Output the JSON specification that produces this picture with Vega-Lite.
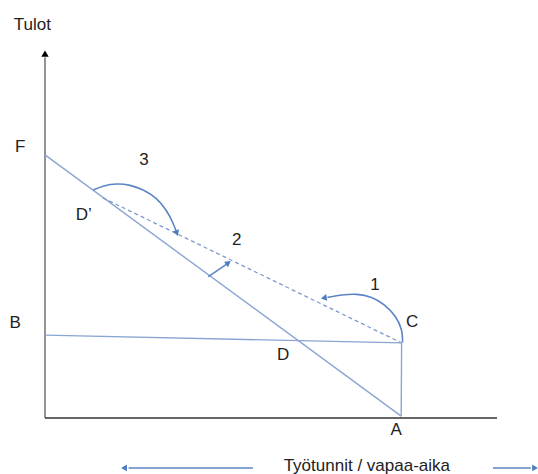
{
  "$schema": "https://vega.github.io/schema/vega-lite/v6.json",
  "width": 452,
  "height": 370,
  "autosize": {"type": "none"},
  "padding": {"left": 45, "top": 48, "right": 41, "bottom": 56},
  "background": "white",
  "config": {"view": {"stroke": null}},
  "datasets": {
    "segs": [
      {"id": "axY", "x": 0, "y": 97.5, "o": 1},
      {"id": "axY", "x": 0, "y": 0, "o": 2},
      {"id": "axX", "x": 0, "y": 0, "o": 1},
      {"id": "axX", "x": 100, "y": 0, "o": 2},
      {"id": "FA", "x": 0, "y": 71.1, "o": 1},
      {"id": "FA", "x": 78.8, "y": 0.5, "o": 2},
      {"id": "BC", "x": 0, "y": 22.4, "o": 1},
      {"id": "BC", "x": 78.9, "y": 20.3, "o": 2},
      {"id": "CA", "x": 78.9, "y": 20.3, "o": 1},
      {"id": "CA", "x": 78.8, "y": 0.5, "o": 2},
      {"id": "DC", "x": 12.8, "y": 59.5, "o": 1},
      {"id": "DC", "x": 78.9, "y": 20.3, "o": 2},
      {"id": "arc1", "x": 79.1, "y": 20.4, "o": 1},
      {"id": "arc1", "x": 79.1, "y": 23.8, "o": 2},
      {"id": "arc1", "x": 77.6, "y": 27.6, "o": 3},
      {"id": "arc1", "x": 75.2, "y": 30.7, "o": 4},
      {"id": "arc1", "x": 72.3, "y": 32.8, "o": 5},
      {"id": "arc1", "x": 69.0, "y": 33.6, "o": 6},
      {"id": "arc1", "x": 65.7, "y": 33.3, "o": 7},
      {"id": "arc1", "x": 62.5, "y": 32.6, "o": 8},
      {"id": "arc3", "x": 10.7, "y": 61.6, "o": 1},
      {"id": "arc3", "x": 12.9, "y": 62.8, "o": 2},
      {"id": "arc3", "x": 15.9, "y": 63.4, "o": 3},
      {"id": "arc3", "x": 18.8, "y": 63.0, "o": 4},
      {"id": "arc3", "x": 21.7, "y": 61.8, "o": 5},
      {"id": "arc3", "x": 24.7, "y": 59.5, "o": 6},
      {"id": "arc3", "x": 26.9, "y": 56.2, "o": 7},
      {"id": "arc3", "x": 28.4, "y": 52.6, "o": 8},
      {"id": "arc3", "x": 29.0, "y": 50.5, "o": 9},
      {"id": "arr2", "x": 36.1, "y": 38.2, "o": 1},
      {"id": "arr2", "x": 38.3, "y": 40.0, "o": 2},
      {"id": "arr2", "x": 40.2, "y": 41.6, "o": 3},
      {"id": "botL", "x": 46.0, "y": -13.5, "o": 1},
      {"id": "botL", "x": 18.5, "y": -13.5, "o": 2},
      {"id": "botR", "x": 99.1, "y": -13.5, "o": 1},
      {"id": "botR", "x": 107.5, "y": -13.5, "o": 2}
    ],
    "heads": [
      {"id": "axY", "x": 0, "y": 98.2, "angle": 0},
      {"id": "arc1", "x": 61.9, "y": 32.5, "angle": 260},
      {"id": "arc3", "x": 29.1, "y": 50.2, "angle": 160},
      {"id": "arr2", "x": 40.4, "y": 41.8, "angle": 55},
      {"id": "botL", "x": 17.7, "y": -13.5, "angle": 270},
      {"id": "botR", "x": 108.2, "y": -13.5, "angle": 90}
    ],
    "labels": [
      {"text": "Tulot", "x": -2.8, "y": 106.2},
      {"text": "F", "x": -5.5, "y": 73.2},
      {"text": "3", "x": 21.9, "y": 69.7},
      {"text": "D’", "x": 8.6, "y": 54.9},
      {"text": "2", "x": 42.4, "y": 48.1},
      {"text": "1", "x": 73.0, "y": 35.9},
      {"text": "C", "x": 81.2, "y": 25.9},
      {"text": "B", "x": -6.6, "y": 25.8},
      {"text": "D", "x": 52.7, "y": 17.0},
      {"text": "A", "x": 77.7, "y": -3.2},
      {"text": "Työtunnit / vapaa-aika", "x": 71.2, "y": -13.0}
    ]
  },
  "layer": [
    {
      "data": {"name": "segs"},
      "transform": [{"filter": "datum.id === 'axY'"}],
      "mark": {"type": "line", "color": "#7a7a7a", "strokeWidth": 1.6},
      "encoding": {
        "x": {"field": "x", "type": "quantitative", "scale": {"domain": [0, 100], "nice": false, "zero": false}, "axis": null},
        "y": {"field": "y", "type": "quantitative", "scale": {"domain": [0, 100], "nice": false, "zero": false}, "axis": null},
        "order": {"field": "o"}
      }
    },
    {
      "data": {"name": "segs"},
      "transform": [{"filter": "datum.id === 'axX'"}],
      "mark": {"type": "line", "color": "#333333", "strokeWidth": 1.3},
      "encoding": {
        "x": {"field": "x", "type": "quantitative"},
        "y": {"field": "y", "type": "quantitative"},
        "order": {"field": "o"}
      }
    },
    {
      "data": {"name": "segs"},
      "transform": [{"filter": "datum.id === 'FA' || datum.id === 'BC' || datum.id === 'CA'"}],
      "mark": {"type": "line", "color": "#8aa5d2", "strokeWidth": 1.4},
      "encoding": {
        "x": {"field": "x", "type": "quantitative"},
        "y": {"field": "y", "type": "quantitative"},
        "detail": {"field": "id"},
        "order": {"field": "o"}
      }
    },
    {
      "data": {"name": "segs"},
      "transform": [{"filter": "datum.id === 'DC'"}],
      "mark": {"type": "line", "color": "#7e9bcc", "strokeWidth": 1.3, "strokeDash": [4, 3]},
      "encoding": {
        "x": {"field": "x", "type": "quantitative"},
        "y": {"field": "y", "type": "quantitative"},
        "order": {"field": "o"}
      }
    },
    {
      "data": {"name": "segs"},
      "transform": [{"filter": "indexof(['arc1','arc3','arr2','botL','botR'], datum.id) >= 0"}],
      "mark": {"type": "line", "color": "#5b85c3", "strokeWidth": 1.6, "interpolate": "basis"},
      "encoding": {
        "x": {"field": "x", "type": "quantitative"},
        "y": {"field": "y", "type": "quantitative"},
        "detail": {"field": "id"},
        "order": {"field": "o"}
      }
    },
    {
      "data": {"name": "heads"},
      "transform": [{"filter": "datum.id !== 'axY'"}],
      "mark": {"type": "point", "shape": "triangle", "filled": true, "color": "#4f7cbf", "size": 45, "opacity": 1},
      "encoding": {
        "x": {"field": "x", "type": "quantitative"},
        "y": {"field": "y", "type": "quantitative"},
        "angle": {"field": "angle", "type": "quantitative", "scale": null}
      }
    },
    {
      "data": {"name": "heads"},
      "transform": [{"filter": "datum.id === 'axY'"}],
      "mark": {"type": "point", "shape": "triangle", "filled": true, "color": "#000000", "size": 55, "opacity": 1},
      "encoding": {
        "x": {"field": "x", "type": "quantitative"},
        "y": {"field": "y", "type": "quantitative"},
        "angle": {"field": "angle", "type": "quantitative", "scale": null}
      }
    },
    {
      "data": {"name": "labels"},
      "mark": {"type": "text", "font": "Liberation Sans", "fontSize": 17, "color": "#222222", "align": "center", "baseline": "middle"},
      "encoding": {
        "x": {"field": "x", "type": "quantitative"},
        "y": {"field": "y", "type": "quantitative"},
        "text": {"field": "text"}
      }
    }
  ]
}
